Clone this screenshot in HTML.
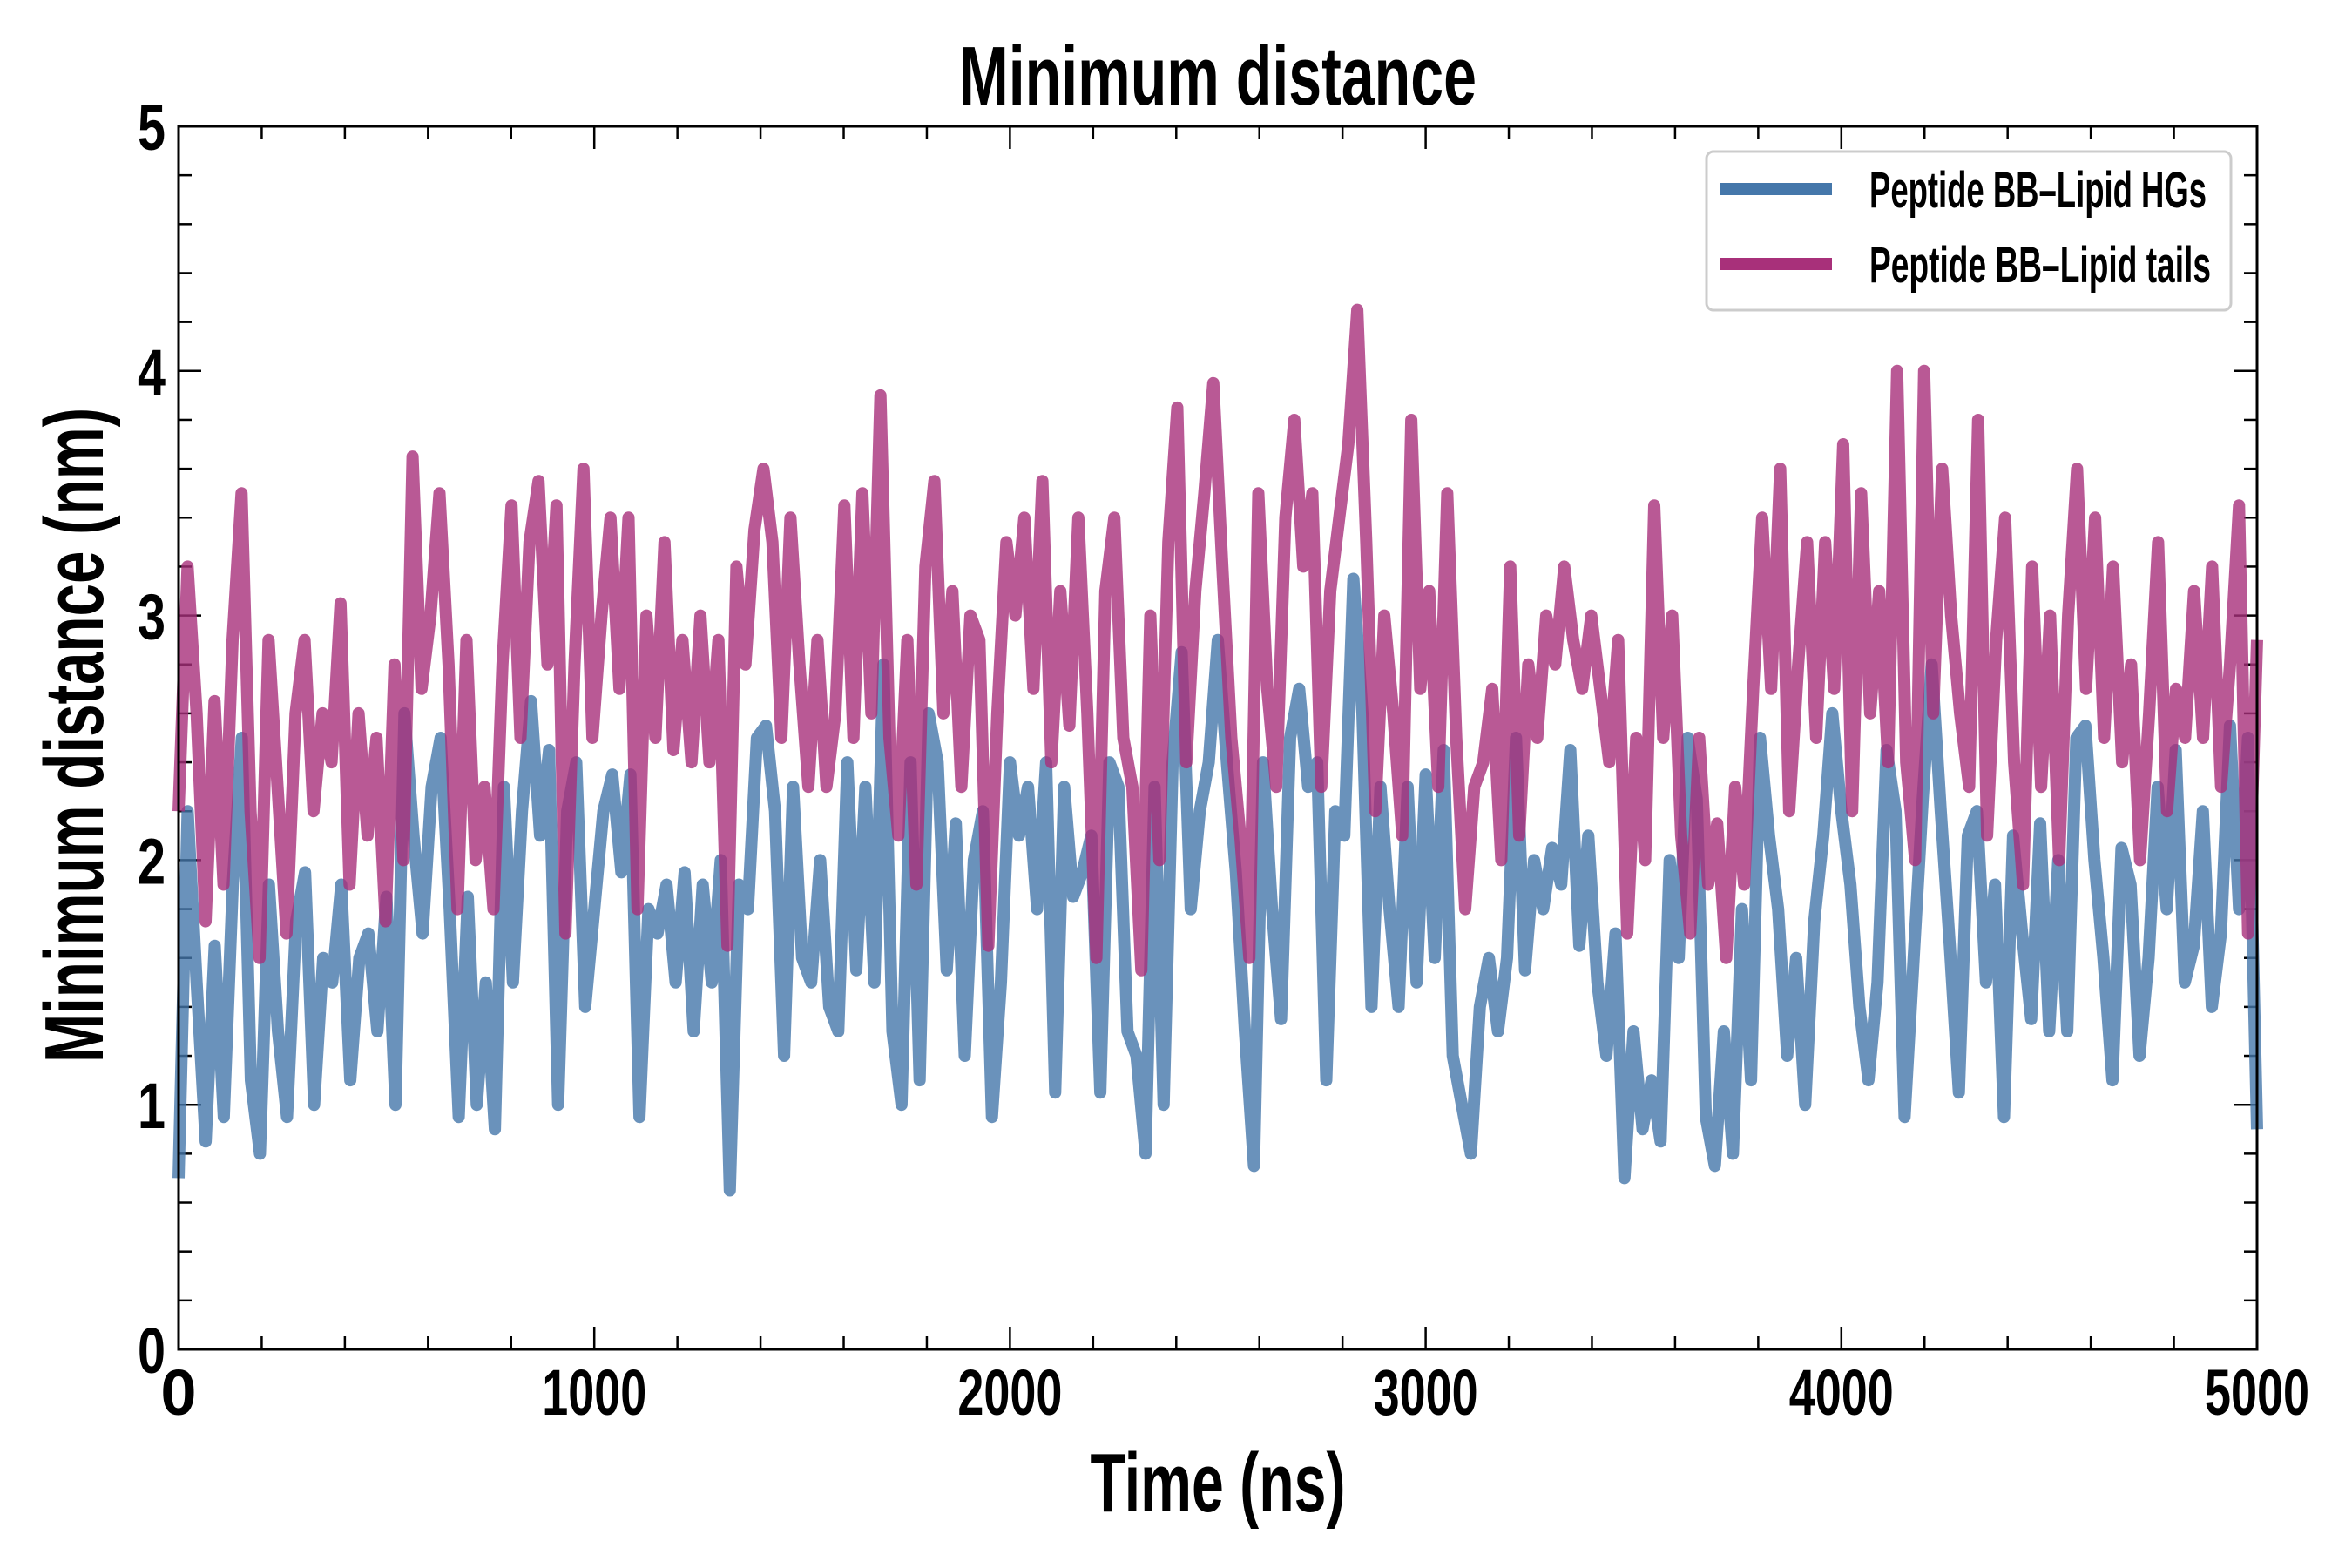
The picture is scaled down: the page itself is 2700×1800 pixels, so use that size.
<!DOCTYPE html>
<html><head><meta charset="utf-8"><style>
html,body{margin:0;padding:0;background:#fff;}
svg{display:block;}
text{font-family:"Liberation Sans Narrow","Liberation Sans",sans-serif;font-weight:bold;fill:#000;}
</style></head><body>
<svg id="chart" width="2700" height="1800" viewBox="0 0 2700 1800" xmlns="http://www.w3.org/2000/svg">
<g id="ticks"></g>
<g id="series"></g>
<rect x="205" y="145" width="2386" height="1404" fill="none" stroke="#000" stroke-width="3"/>
<text x="1398" y="120" font-size="96" text-anchor="middle" textLength="594" lengthAdjust="spacingAndGlyphs">Minimum distance</text>
<text x="1398" y="1735" font-size="96" text-anchor="middle" textLength="293" lengthAdjust="spacingAndGlyphs">Time (ns)</text>
<text transform="translate(118,844) rotate(-90)" font-size="96" text-anchor="middle" textLength="752" lengthAdjust="spacingAndGlyphs">Minimum distance (nm)</text>
<g>
<rect x="1959" y="174" width="602" height="182" rx="8" fill="#fff" stroke="#ccc" stroke-width="3"/>
<line x1="1974" y1="217" x2="2103" y2="217" stroke="#4577aa" stroke-width="14"/>
<text x="2146" y="238" font-size="58" textLength="387" lengthAdjust="spacingAndGlyphs">Peptide BB–Lipid HGs</text>
<line x1="1974" y1="303" x2="2103" y2="303" stroke="#a8307a" stroke-width="14"/>
<text x="2146" y="324" font-size="58" textLength="392" lengthAdjust="spacingAndGlyphs">Peptide BB–Lipid tails</text>
</g>
</svg>
<script>
const hgs=[0.7,2.2,1.5,0.85,1.65,0.95,1.9,2.5,1.1,0.8,1.9,1.3,0.95,1.75,1.95,1.0,1.6,1.5,1.9,1.1,1.6,1.7,1.3,1.85,1.0,2.6,2.1,1.7,2.3,2.5,1.8,0.95,1.85,1.0,1.5,0.9,2.3,1.5,2.2,2.65,2.1,2.45,1.0,2.2,2.4,1.4,1.8,2.2,2.35,1.95,2.35,0.95,1.8,1.7,1.9,1.5,1.95,1.3,1.9,1.5,2.0,0.65,1.9,1.8,2.5,2.55,2.2,1.2,2.3,1.6,1.5,2.0,1.4,1.3,2.4,1.55,2.3,1.5,2.8,1.3,1.0,2.4,1.1,2.6,2.4,1.55,2.15,1.2,2.0,2.2,0.95,1.5,2.4,2.1,2.3,1.8,2.4,1.05,2.3,1.85,1.95,2.1,1.05,2.4,2.3,1.3,1.2,0.8,2.3,1.0,2.4,2.85,1.8,2.2,2.4,2.9,2.4,1.95,1.3,0.75,2.4,1.8,1.35,2.5,2.7,2.3,2.4,1.1,2.2,2.1,3.15,2.6,1.4,2.3,1.8,1.4,2.3,1.5,2.35,1.6,2.45,1.2,1.0,0.8,1.4,1.6,1.3,1.6,2.5,1.55,2.0,1.8,2.05,1.9,2.45,1.65,2.1,1.5,1.2,1.7,0.7,1.3,0.9,1.1,0.85,2.0,1.6,2.5,2.25,0.95,0.75,1.3,0.8,1.8,1.1,2.5,2.1,1.8,1.2,1.6,1.0,1.75,2.1,2.6,2.2,1.9,1.4,1.1,1.5,2.45,2.2,0.95,1.6,2.25,2.8,2.2,1.65,1.05,2.1,2.2,1.5,1.9,0.95,2.1,1.7,1.35,2.15,1.3,2.0,1.3,2.5,2.55,2.0,1.6,1.1,2.05,1.9,1.2,1.6,2.3,1.8,2.45,1.5,1.65,2.2,1.4,1.7,2.55,1.8,2.5,0.9];
const tails=[2.2,3.2,2.6,1.75,2.65,1.9,2.9,3.5,2.2,1.6,2.9,2.3,1.7,2.6,2.9,2.2,2.6,2.4,3.05,1.9,2.6,2.1,2.5,1.75,2.8,2.0,3.65,2.7,3.0,3.5,2.8,1.8,2.9,2.0,2.3,1.8,2.8,3.45,2.5,3.3,3.55,2.8,3.45,1.7,2.8,3.6,2.5,3.0,3.4,2.7,3.4,1.8,3.0,2.5,3.3,2.45,2.9,2.4,3.0,2.4,2.9,1.65,3.2,2.8,3.35,3.6,3.3,2.5,3.4,2.8,2.3,2.9,2.3,2.6,3.45,2.5,3.5,2.6,3.9,2.5,2.1,2.9,1.9,3.2,3.55,2.6,3.1,2.3,3.0,2.9,1.65,2.6,3.3,3.0,3.4,2.7,3.55,2.4,3.1,2.55,3.4,2.6,1.6,3.1,3.4,2.5,2.3,1.55,3.0,2.0,3.3,3.85,2.4,3.1,3.5,3.95,3.2,2.5,2.1,1.6,3.5,2.7,2.3,3.4,3.8,3.2,3.5,2.3,3.1,3.4,3.7,4.25,3.3,2.2,3.0,2.6,2.1,3.8,2.7,3.1,2.3,3.5,2.5,1.8,2.3,2.4,2.7,2.0,3.2,2.1,2.8,2.5,3.0,2.8,3.2,2.9,2.7,3.0,2.7,2.4,2.9,1.7,2.5,2.0,3.45,2.5,3.0,2.1,1.7,2.5,1.9,2.15,1.6,2.3,1.9,2.7,3.4,2.7,3.6,2.2,2.8,3.3,2.5,3.3,2.7,3.7,2.2,3.5,2.6,3.1,2.4,4.0,2.4,2.0,4.0,2.6,3.6,3.0,2.6,2.3,3.8,2.1,2.9,3.4,2.4,1.9,3.2,2.3,3.0,2.0,3.0,3.6,2.7,3.4,2.5,3.2,2.4,2.8,2.0,2.6,3.3,2.2,2.7,2.5,3.1,2.5,3.2,2.3,2.8,3.45,1.7,2.9];
const xMajor=[0,1000,2000,3000,4000,5000];
const yMajor=[0,1,2,3,4,5];
const X0=205,X1=2591,Y0=1549,Y1=145;
const xs=v=>X0+(v/5000)*(X1-X0);
const ys=v=>Y0-(v/5)*(Y0-Y1);
const NS="http://www.w3.org/2000/svg";
const tg=document.getElementById('ticks');
function ln(x1,y1,x2,y2,name){const l=document.createElementNS(NS,'line');l.setAttribute('x1',x1);l.setAttribute('y1',y1);l.setAttribute('x2',x2);l.setAttribute('y2',y2);l.setAttribute('stroke','#000');l.setAttribute('stroke-width','2.5');


tg.appendChild(l);}
for(let v=0;v<=5000;v+=200){const x=xs(v);const L=(v%1000===0)?26:15;ln(x,Y0,x,Y0-L,'x-tick');ln(x,Y1,x,Y1+L,'x-tick-top');}
for(let i=0;i<=25;i++){const v=i*0.2;const y=ys(v);const L=(i%5===0)?26:15;ln(X0,y,X0+L,y,'y-tick');ln(X1,y,X1-L,y,'y-tick-right');}
xMajor.forEach(v=>{const t=document.createElementNS(NS,'text');t.setAttribute('x',xs(v));t.setAttribute('y',1624);t.setAttribute('font-size','74');t.setAttribute('text-anchor','middle');t.textContent=v;
if(String(v).length>1){t.setAttribute('textLength','120');t.setAttribute('lengthAdjust','spacingAndGlyphs');}


tg.appendChild(t);});
yMajor.forEach(v=>{const t=document.createElementNS(NS,'text');t.setAttribute('x',190);t.setAttribute('y',ys(v)+27);t.setAttribute('font-size','74');t.setAttribute('text-anchor','end');t.textContent=v;
t.setAttribute('textLength','32');t.setAttribute('lengthAdjust','spacingAndGlyphs');


tg.appendChild(t);});
const sg=document.getElementById('series');
function draw(arr,color,name){const n=arr.length;const pts=arr.map((v,i)=>xs(i*5000/(n-1)).toFixed(1)+','+ys(v).toFixed(1)).join(' ');
const p=document.createElementNS(NS,'polyline');p.setAttribute('points',pts);p.setAttribute('fill','none');p.setAttribute('stroke',color);p.setAttribute('stroke-width','14');p.setAttribute('stroke-opacity','0.8');p.setAttribute('stroke-linejoin','round');


sg.appendChild(p);}
draw(hgs,'#4577aa','line-lipid-hgs');
draw(tails,'#a8307a','line-lipid-tails');
</script>
</body></html>
